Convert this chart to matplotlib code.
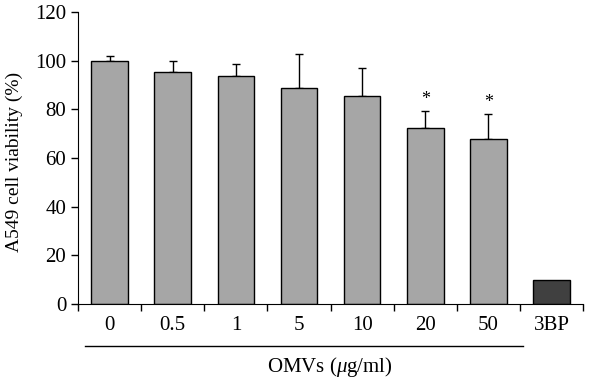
import matplotlib
matplotlib.use("Agg")
import matplotlib.pyplot as plt
import numpy as np

categories = ["0", "0.5", "1", "5", "10", "20", "50", "3BP"]
values = [100, 95.5, 93.8, 88.8, 85.5, 72.2, 67.8, 10]
errors = [2, 4.5, 4.8, 14, 11.5, 7.3, 10.5, 0]
significant = [False, False, False, False, False, True, True, False]
colors = ["#a6a6a6"] * 7 + ["#404040"]

plt.rcParams['font.family'] = ['Liberation Serif', 'DejaVu Serif']
plt.rcParams['mathtext.fontset'] = 'custom'
plt.rcParams['mathtext.rm'] = 'Liberation Serif'
plt.rcParams['mathtext.it'] = 'Liberation Serif:italic'

fig = plt.figure(figsize=(6, 3.8), dpi=100)
ax = fig.add_axes([0.13, 0.2, 0.842, 0.768])

x = np.arange(len(categories))
ax.bar(x, values, width=0.58, color=colors, edgecolor="black", linewidth=1, zorder=2)
errs = np.array(errors)
mask = errs > 0
ax.errorbar(x[mask], np.array(values)[mask], yerr=[np.zeros(mask.sum()), errs[mask]],
            fmt="none", ecolor="black", elinewidth=1, capsize=3, capthick=1, zorder=1)
for xi, v, e, s in zip(x, values, errors, significant):
    if s:
        ax.text(xi, v + e + 1.0, "*", ha="center", va="bottom", fontsize=13)

ax.set_xlim(-0.5, len(categories) - 0.5)
ax.set_ylim(0, 120)
ax.set_yticks(range(0, 121, 20))
ax.set_xticks(x)
ax.set_xticklabels(categories)
ax.set_xticks(np.arange(-0.5, len(categories), 1), minor=True)
ax.tick_params(axis="x", which="major", length=0, pad=9, labelsize=15)
ax.tick_params(axis="x", which="minor", length=5, direction="out", width=1)
ax.tick_params(axis="y", length=5, direction="out", width=1, labelsize=15)
for s in ["top", "right"]:
    ax.spines[s].set_visible(False)

fig.text(14/600, 1-162/380, "A549 cell viability (%)", rotation=90,
         ha="center", va="center", fontsize=14)

# group line and label
fig.lines.append(plt.Line2D([85/600, 523/600], [1-346/380, 1-346/380], color="black", lw=1,
                            transform=fig.transFigure))
fig.text(330/600, 1-367/380, "OMVs ($\\mu$g/ml)", ha="center", va="center", fontsize=15)

fig.savefig("out.png", dpi=100)
